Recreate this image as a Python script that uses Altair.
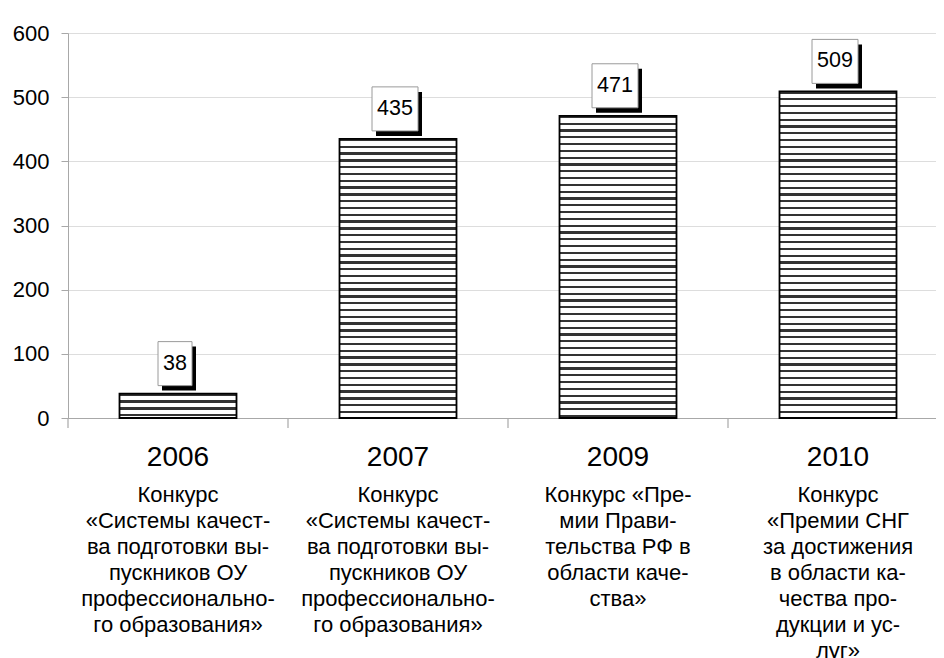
import altair as alt
import pandas as pd

years = ["2006", "2007", "2009", "2010"]
values = [38, 435, 471, 509]
descriptions = [
    "Конкурс\n«Системы качест-\nва подготовки вы-\nпускников ОУ\nпрофессионально-\nго образования»",
    "Конкурс\n«Системы качест-\nва подготовки вы-\nпускников ОУ\nпрофессионально-\nго образования»",
    "Конкурс «Пре-\nмии Прави-\nтельства РФ в\nобласти каче-\nства»",
    "Конкурс\n«Премии СНГ\nза достижения\nв области ка-\nчества про-\nдукции и ус-\nлуг»",
]
y_ticks = [0, 100, 200, 300, 400, 500, 600]

df = pd.DataFrame({"year": years, "value": values, "desc": descriptions})

W, H = 868, 385
YMAX = 600
FONT = "Liberation Sans"

xscale = alt.Scale(domain=years, range=[0, 880], paddingInner=0, paddingOuter=0)
yscale = alt.Scale(domain=[0, YMAX], nice=False)

base = alt.Chart(df)


def stripes(px_height, period=6.8, dark=2.3):
    stops = []
    y = 0.0
    while y < px_height:
        a = y / px_height
        b = min((y + dark) / px_height, 1.0)
        c = min((y + period) / px_height, 1.0)
        stops += [
            alt.GradientStop(offset=a, color="#333333"),
            alt.GradientStop(offset=b, color="#333333"),
            alt.GradientStop(offset=b, color="#ffffff"),
            alt.GradientStop(offset=c, color="#ffffff"),
        ]
        y += period
    return alt.LinearGradient(gradient="linear", stops=stops, x1=0, x2=0, y1=0, y2=1)


bar_layers = []
for yr, v in zip(years, values):
    px = v / YMAX * H
    bar_layers.append(
        base.transform_filter(alt.datum.year == yr)
        .mark_bar(width=117, color=stripes(px), stroke="#000000", strokeWidth=1.8)
        .encode(
            x=alt.X("year:N", scale=xscale, sort=years,
                    axis=alt.Axis(title=None, labelAngle=0, ticks=False, labelFontSize=28,
                                  labelFont=FONT, labelColor="#000000", labelPadding=25,
                                  domainColor="#a8a8a8", domainWidth=1.2)),
            y=alt.Y("value:Q", scale=yscale,
                    axis=alt.Axis(title=None, values=y_ticks, labelFontSize=22, labelFont=FONT,
                                  labelColor="#000000", labelPadding=12, tickSize=7,
                                  tickColor="#a8a8a8", domainColor="#a8a8a8",
                                  gridColor="#dddddd", gridWidth=1.2)),
        )
    )

xtick = base.mark_rule(color="#a8a8a8", strokeWidth=1.2, xOffset=-110).encode(
    x=alt.X("year:N", scale=xscale, sort=years),
    y=alt.value(H),
    y2=alt.value(H + 10),
)

label_layers = []
for cond, w in [(alt.datum.value >= 100, 46), (alt.datum.value < 100, 34)]:
    shadow = base.transform_filter(cond).mark_bar(
        width=w, color="#000000", xOffset=1, yOffset=-47, y2Offset=-3
    ).encode(x=alt.X("year:N", scale=xscale, sort=years), y="value:Q", y2="value")
    box = base.transform_filter(cond).mark_bar(
        width=w, color="#ffffff", stroke="#9a9a9a", strokeWidth=1, xOffset=-3, yOffset=-52, y2Offset=-8
    ).encode(x=alt.X("year:N", scale=xscale, sort=years), y="value:Q", y2="value")
    label_layers += [shadow, box]

label_text = base.mark_text(
    font=FONT, fontSize=21.5, color="#000000", dx=-3, dy=-30, baseline="middle", align="center"
).encode(x=alt.X("year:N", scale=xscale, sort=years), y="value:Q", text="value:Q")

desc_text = base.mark_text(
    font=FONT, fontSize=22, color="#000000", lineBreak="\n", lineHeight=26.0,
    baseline="top", align="center"
).encode(x=alt.X("year:N", scale=xscale, sort=years), y=alt.value(452), text="desc:N")

chart = alt.layer(*bar_layers, xtick, *label_layers, label_text, desc_text).properties(
    width=W, height=H,
    autosize=alt.AutoSizeParams(type="none"),
    padding={"left": 60, "top": 25, "right": 0, "bottom": 240},
).configure_view(stroke=None).configure_axis(grid=True).configure_axisX(grid=False)

chart.save("out.html", embed_options={"renderer": "svg", "actions": False})
